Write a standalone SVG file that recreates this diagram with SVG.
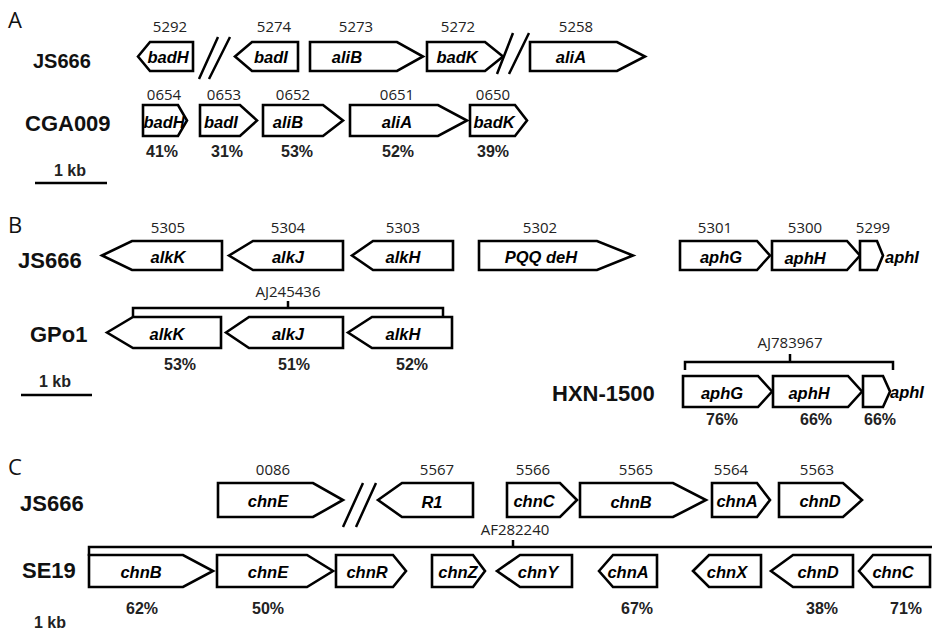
<svg xmlns="http://www.w3.org/2000/svg" width="932" height="636" viewBox="0 0 932 636">
<style>
.g{fill:#fff;stroke:#000;stroke-width:2.6;stroke-linejoin:miter}
.gl{font-family:"Liberation Sans",Arial,sans-serif;font-weight:bold;font-style:italic;font-size:16.5px;text-anchor:middle;fill:#000}
.gla{font-family:"Liberation Sans",Arial,sans-serif;font-weight:bold;font-style:italic;font-size:16.5px;fill:#000}
.num{font-family:"Open Sans",sans-serif;font-size:15px;text-anchor:middle;fill:#222}
.pct{font-family:"Liberation Sans",Arial,sans-serif;font-weight:bold;font-size:16px;text-anchor:middle;fill:#222}
.st{font-family:"Liberation Sans",Arial,sans-serif;font-weight:bold;font-size:22px;fill:#111}
.pn{font-family:"Open Sans",sans-serif;font-size:22px;fill:#111}
.ln{fill:none;stroke:#000;stroke-width:2.5}
</style>
<rect width="932" height="636" fill="#fff"/>
<!-- Panel labels -->
<text class="pn" x="8" y="28">A</text>
<text class="pn" x="8" y="233">B</text>
<text class="pn" x="8" y="475">C</text>
<!-- Strain labels -->
<text class="st" x="33" y="68" style="font-size:20px">JS666</text>
<text class="st" x="25" y="131">CGA009</text>
<text class="st" x="18" y="268">JS666</text>
<text class="st" x="30" y="342">GPo1</text>
<text class="st" x="552" y="401">HXN-1500</text>
<text class="st" x="20" y="511">JS666</text>
<text class="st" x="22" y="578">SE19</text>

<g id="connectors">
  <!-- break marks -->
  <path class="ln" d="M199,79 L218,37 M209,79 L230,37"/>
  <path class="ln" d="M497,74 L513,33 M509,74 L529,33"/>
  <path class="ln" d="M343,527 L363,483 M356,527 L376,483"/>
  <!-- brackets -->
  <path class="ln" d="M133,317 V308 H443 V317 M288,308 V301"/>
  <path class="ln" d="M685,370 V362 H893 V370 M790,362 V354"/>
  <path class="ln" d="M89,556 V547 H932 M513,547 V540"/>
  <!-- scale bars -->
  <path class="ln" d="M35,183 H107"/>
  <path class="ln" d="M21,395 H92"/>
</g>

<!-- accession labels -->
<text class="num" x="288" y="297">AJ245436</text>
<text class="num" x="790" y="348">AJ783967</text>
<text class="num" x="515" y="535">AF282240</text>

<!-- scale labels -->
<text class="pct" x="70" y="176">1 kb</text>
<text class="pct" x="55" y="387">1 kb</text>
<text class="pct" x="50" y="628">1 kb</text>

<!-- Panel A, JS666 -->
<g id="A_JS666_badH"><polygon class="g" points="138,56.5 150,42 193,42 193,71 150,71"/><text class="gl" x="168" y="63">badH</text><text class="num" x="170" y="32">5292</text></g>
<g id="A_JS666_badI"><polygon class="g" points="235,56.5 252,42 298,42 298,71 252,71"/><text class="gl" x="271" y="63">badI</text><text class="num" x="274" y="32">5274</text></g>
<g id="A_JS666_aliB"><polygon class="g" points="310,42 397,42 423,56.5 397,71 310,71"/><text class="gl" x="347" y="63">aliB</text><text class="num" x="356" y="32">5273</text></g>
<g id="A_JS666_badK"><polygon class="g" points="427,42 485,42 503,56.5 485,71 427,71"/><text class="gl" x="457" y="63">badK</text><text class="num" x="458" y="32">5272</text></g>
<g id="A_JS666_aliA"><polygon class="g" points="530,42 617,42 645,56.5 617,71 530,71"/><text class="gl" x="571" y="63">aliA</text><text class="num" x="576" y="32">5258</text></g>

<!-- Panel A, CGA009 -->
<g id="A_CGA_badH"><polygon class="g" points="143,105 178,105 187,120.5 178,136 143,136"/><text class="gl" x="164" y="128">badH</text><text class="num" x="164" y="100">0654</text><text class="pct" x="162" y="157">41%</text></g>
<g id="A_CGA_badI"><polygon class="g" points="200,105 240,105 257,120.5 240,136 200,136"/><text class="gl" x="221" y="128">badI</text><text class="num" x="224" y="100">0653</text><text class="pct" x="227" y="157">31%</text></g>
<g id="A_CGA_aliB"><polygon class="g" points="263,105 323,105 343,120.5 323,136 263,136"/><text class="gl" x="288" y="128">aliB</text><text class="num" x="293" y="100">0652</text><text class="pct" x="297" y="157">53%</text></g>
<g id="A_CGA_aliA"><polygon class="g" points="350,105 438,105 467,120.5 438,136 350,136"/><text class="gl" x="397" y="128">aliA</text><text class="num" x="397" y="100">0651</text><text class="pct" x="398" y="157">52%</text></g>
<g id="A_CGA_badK"><polygon class="g" points="470,105 515,105 527,120.5 515,136 470,136"/><text class="gl" x="494" y="128">badK</text><text class="num" x="493" y="100">0650</text><text class="pct" x="493" y="157">39%</text></g>

<!-- Panel B, JS666 -->
<g id="B_JS666_alkK"><polygon class="g" points="102,255.5 132,241 222,241 222,270 132,270"/><text class="gl" x="168" y="263">alkK</text><text class="num" x="168" y="233">5305</text></g>
<g id="B_JS666_alkJ"><polygon class="g" points="229,255.5 253,241 343,241 343,270 253,270"/><text class="gl" x="288" y="263">alkJ</text><text class="num" x="288" y="233">5304</text></g>
<g id="B_JS666_alkH"><polygon class="g" points="352,255.5 373,241 453,241 453,270 373,270"/><text class="gl" x="403" y="263">alkH</text><text class="num" x="403" y="233">5303</text></g>
<g id="B_JS666_PQQ"><polygon class="g" points="479,241 597,241 633,255.5 597,270 479,270"/><text class="gl" x="541" y="263">PQQ deH</text><text class="num" x="540" y="233">5302</text></g>
<g id="B_JS666_aphG"><polygon class="g" points="680,241 757,241 770,255.5 757,270 680,270"/><text class="gl" x="721" y="263">aphG</text><text class="num" x="715" y="233">5301</text></g>
<g id="B_JS666_aphH"><polygon class="g" points="772,241 847,241 860,255.5 847,270 772,270"/><text class="gl" x="805" y="264">aphH</text><text class="num" x="805" y="233">5300</text></g>
<g id="B_JS666_aphI"><polygon class="g" points="860,241 877,241 883,255.5 877,270 860,270"/><text class="gla" x="885" y="263">aphI</text><text class="num" x="873" y="233">5299</text></g>

<!-- Panel B, GPo1 -->
<g id="B_GPo1_alkK"><polygon class="g" points="107,332.5 133,317 221,317 221,348 133,348"/><text class="gl" x="167" y="340">alkK</text><text class="pct" x="180" y="370">53%</text></g>
<g id="B_GPo1_alkJ"><polygon class="g" points="226,332.5 249,317 343,317 343,348 249,348"/><text class="gl" x="288" y="340">alkJ</text><text class="pct" x="294" y="370">51%</text></g>
<g id="B_GPo1_alkH"><polygon class="g" points="348,332.5 372,317 452,317 452,348 372,348"/><text class="gl" x="403" y="340">alkH</text><text class="pct" x="412" y="370">52%</text></g>

<!-- Panel B, HXN-1500 -->
<g id="B_HXN_aphG"><polygon class="g" points="683,376 758,376 772,391.5 758,407 683,407"/><text class="gl" x="722" y="399">aphG</text><text class="pct" x="722" y="425">76%</text></g>
<g id="B_HXN_aphH"><polygon class="g" points="773,376 848,376 862,391.5 848,407 773,407"/><text class="gl" x="809" y="399">aphH</text><text class="pct" x="816" y="425">66%</text></g>
<g id="B_HXN_aphI"><polygon class="g" points="863,376 883,376 890,391.5 883,407 863,407"/><text class="gla" x="890" y="398">aphI</text><text class="pct" x="880" y="425">66%</text></g>

<!-- Panel C, JS666 -->
<g id="C_JS666_chnE"><polygon class="g" points="218,483 313,483 343,500 313,517 218,517"/><text class="gl" x="268" y="507">chnE</text><text class="num" x="273" y="475">0086</text></g>
<g id="C_JS666_R1"><polygon class="g" points="378,500 402,483 473,483 473,517 402,517"/><text class="gl" x="432" y="508">R1</text><text class="num" x="437" y="475">5567</text></g>
<g id="C_JS666_chnC"><polygon class="g" points="507,483 560,483 577,500 560,517 507,517"/><text class="gl" x="534" y="507">chnC</text><text class="num" x="533" y="475">5566</text></g>
<g id="C_JS666_chnB"><polygon class="g" points="580,483 673,483 706,500 673,517 580,517"/><text class="gl" x="631" y="508">chnB</text><text class="num" x="636" y="475">5565</text></g>
<g id="C_JS666_chnA"><polygon class="g" points="712,483 757,483 770,500 757,517 712,517"/><text class="gl" x="737" y="507">chnA</text><text class="num" x="731" y="475">5564</text></g>
<g id="C_JS666_chnD"><polygon class="g" points="779,483 843,483 862,500 843,517 779,517"/><text class="gl" x="820" y="507">chnD</text><text class="num" x="817" y="475">5563</text></g>

<!-- Panel C, SE19 -->
<g id="C_SE19_chnB"><polygon class="g" points="89,555 183,555 213,571 183,587 89,587"/><text class="gl" x="141" y="578">chnB</text><text class="pct" x="142" y="614">62%</text></g>
<g id="C_SE19_chnE"><polygon class="g" points="217,555 307,555 333,571 307,587 217,587"/><text class="gl" x="268" y="578">chnE</text><text class="pct" x="268" y="614">50%</text></g>
<g id="C_SE19_chnR"><polygon class="g" points="336,555 393,555 406,571 393,587 336,587"/><text class="gl" x="367" y="578">chnR</text></g>
<g id="C_SE19_chnZ"><polygon class="g" points="432,555 473,555 485,571 473,587 432,587"/><text class="gl" x="458" y="578">chnZ</text></g>
<g id="C_SE19_chnY"><polygon class="g" points="497,571 520,555 572,555 572,587 520,587"/><text class="gl" x="538" y="578">chnY</text></g>
<g id="C_SE19_chnA"><polygon class="g" points="599,571 613,555 657,555 657,587 613,587"/><text class="gl" x="628" y="578">chnA</text><text class="pct" x="637" y="614">67%</text></g>
<g id="C_SE19_chnX"><polygon class="g" points="693,571 709,555 761,555 761,587 709,587"/><text class="gl" x="727" y="578">chnX</text></g>
<g id="C_SE19_chnD"><polygon class="g" points="771,571 793,555 853,555 853,587 793,587"/><text class="gl" x="818" y="578">chnD</text><text class="pct" x="822" y="614">38%</text></g>
<g id="C_SE19_chnC"><polygon class="g" points="859,571 873,555 930,555 930,587 873,587"/><text class="gl" x="893" y="578">chnC</text><text class="pct" x="906" y="614">71%</text></g>
</svg>
